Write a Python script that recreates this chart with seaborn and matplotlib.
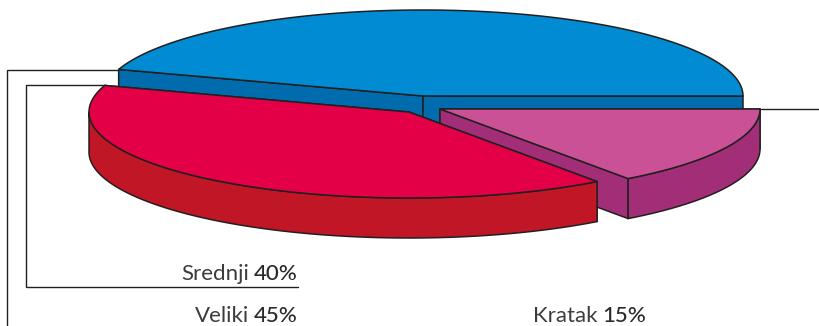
import numpy as np
import matplotlib
matplotlib.use("Agg")
import matplotlib.pyplot as plt
from matplotlib.patches import Polygon
import seaborn as sns

# Share of each size class, counter-clockwise from the right edge of the pie
names = ["Veliki", "Srednji", "Kratak"]
shares = [45, 40, 15]
top_colors = ["#008bd2", "#e40046", "#cb5197"]
side_colors = ["#006cae", "#c01626", "#a22e78"]

# Drawing geometry, in pixels of the output figure
WIDTH, HEIGHT = 819, 326
RX, RY, DEPTH = 320, 86, 40
CENTERS = {"Veliki": (423, 96), "Srednji": (409, 112), "Kratak": (440, 109)}
EDGE = "#231f20"
INK = "#2a2a2a"

sns.set_theme(style="white")
plt.rcParams["font.family"] = ["Lato", "DejaVu Sans"]

fig = plt.figure(figsize=(WIDTH / 100, HEIGHT / 100), dpi=100)
ax = fig.add_axes([0, 0, 1, 1])
ax.set_xlim(0, WIDTH)
ax.set_ylim(HEIGHT, 0)
ax.axis("off")


def arc(center, t1, t2, drop=0.0):
    t = np.radians(np.linspace(t1, t2, 160))
    return np.column_stack([center[0] + RX * np.cos(t),
                            center[1] - RY * np.sin(t) + drop])


def face(points, color, z):
    ax.add_patch(Polygon(points, closed=True, facecolor=color, edgecolor=EDGE,
                         linewidth=1.1, joinstyle="round", zorder=z))


def radial_wall(center, angle, color, z):
    rim = arc(center, angle, angle + 1e-6)[0]
    apex = np.array(center, float)
    down = np.array([0, DEPTH])
    face([apex, rim, rim + down, apex + down], color, z)


# Wedges are stacked back to front: blue, then magenta, then red
layer = {"Veliki": 1, "Kratak": 2, "Srednji": 3}
edges = np.concatenate([[0], np.cumsum(shares)]) * 3.6

for i, name in enumerate(names):
    c = CENTERS[name]
    t1, t2 = edges[i], edges[i + 1]
    z = layer[name] * 10
    radial_wall(c, t2, side_colors[i], z)
    radial_wall(c, t1, side_colors[i], z)
    lo, hi = max(t1, 180), t2
    if hi > lo:
        face(np.vstack([arc(c, lo, hi), arc(c, lo, hi, DEPTH)[::-1]]),
             side_colors[i], z + 1)
    face(np.vstack([[c], arc(c, t1, t2)]), top_colors[i], z + 2)

# Leader lines from the wedges to their captions
line_style = dict(color=EDGE, linewidth=1.0, solid_joinstyle="miter", zorder=0)
ax.plot([118, 7, 7], [70, 70, HEIGHT], **line_style)
ax.plot([106, 26, 26, 298], [85, 85, 287, 287], **line_style)
ax.plot([761, WIDTH], [109, 109], **line_style)

# Captions: a lighter name followed by a heavier percentage
renderer = fig.canvas.get_renderer()


def caption(name, share, x, y, anchor):
    size = 16
    value = ax.text(0, y, f"{share}%", fontsize=size, color=INK, weight="medium",
                    va="baseline", ha="left", zorder=50)
    label = ax.text(0, y, name, fontsize=size, color="#3c3c3c", weight="normal",
                    va="baseline", ha="left", zorder=50)
    w_value = value.get_window_extent(renderer).width
    w_label = label.get_window_extent(renderer).width
    gap = 5
    if anchor == "right":
        value.set_x(x - w_value)
        label.set_x(x - w_value - gap - w_label)
    else:
        label.set_x(x)
        value.set_x(x + w_label + gap)


for name, share, x, y, anchor in zip(names, shares,
                                     [298, 298, 533], [322, 280, 322],
                                     ["right", "right", "left"]):
    caption(name, share, x, y, anchor)

fig.savefig("out.png", dpi=100)
